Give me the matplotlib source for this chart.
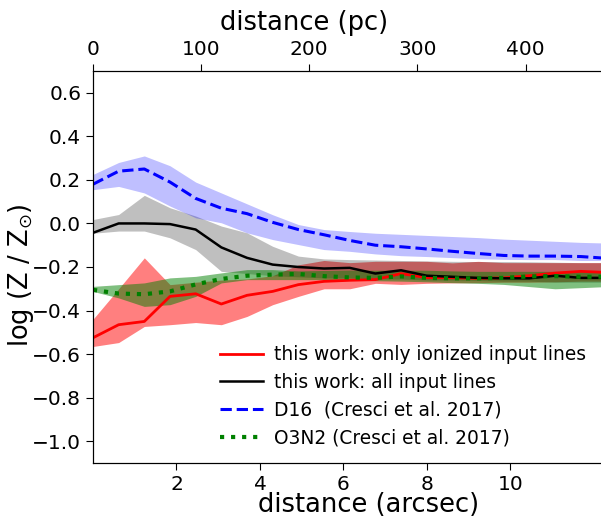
import numpy as np
import matplotlib
matplotlib.use('Agg')
import matplotlib.pyplot as plt

# radial distance grid (arcsec)
dist = [0.0, 0.615, 1.23, 1.845, 2.46, 3.075, 3.69, 4.305, 4.92, 5.535, 6.15,
        6.765, 7.38, 7.995, 8.61, 9.225, 9.84, 10.455, 11.07, 11.685, 12.3]

# this work: only ionized input lines
red_med = [-0.525, -0.465, -0.45, -0.335, -0.323, -0.37, -0.33, -0.312, -0.281, -0.266, -0.261,
           -0.258, -0.23, -0.249, -0.249, -0.252, -0.25, -0.24, -0.228, -0.22, -0.225]
red_hi = [-0.44, -0.30, -0.158, -0.281, -0.27, -0.26, -0.255, -0.24, -0.19, -0.17, -0.18,
          -0.174, -0.174, -0.174, -0.181, -0.174, -0.18, -0.18, -0.18, -0.18, -0.18]
red_lo = [-0.565, -0.547, -0.473, -0.465, -0.455, -0.465, -0.427, -0.373, -0.335, -0.3, -0.3,
          -0.275, -0.28, -0.275, -0.273, -0.272, -0.27, -0.27, -0.268, -0.265, -0.265]

# this work: all input lines
blk_med = [-0.043, 0.0, 0.0, -0.003, -0.028, -0.11, -0.158, -0.189, -0.2, -0.207, -0.204,
           -0.23, -0.215, -0.24, -0.245, -0.25, -0.252, -0.252, -0.24, -0.25, -0.25]
blk_hi = [0.018, 0.041, 0.129, 0.072, 0.034, -0.012, -0.043, -0.105, -0.15, -0.163, -0.166,
          -0.168, -0.17, -0.172, -0.174, -0.175, -0.175, -0.176, -0.178, -0.18, -0.18]
blk_lo = [-0.045, -0.035, -0.035, -0.066, -0.12, -0.22, -0.23, -0.24, -0.245, -0.25, -0.25,
          -0.255, -0.255, -0.26, -0.26, -0.262, -0.265, -0.265, -0.27, -0.27, -0.27]

# D16 (Cresci et al. 2017)
d16_med = [0.18, 0.24, 0.25, 0.19, 0.115, 0.07, 0.045, 0.005, -0.028, -0.052, -0.078,
           -0.10, -0.107, -0.117, -0.128, -0.138, -0.147, -0.15, -0.15, -0.152, -0.16]
d16_hi = [0.225, 0.28, 0.31, 0.265, 0.19, 0.14, 0.09, 0.04, -0.005, -0.028, -0.037,
          -0.045, -0.05, -0.055, -0.06, -0.065, -0.072, -0.077, -0.082, -0.087, -0.09]
d16_lo = [0.155, 0.17, 0.14, 0.08, 0.026, 0.003, -0.043, -0.074, -0.097, -0.12, -0.128,
          -0.14, -0.148, -0.152, -0.157, -0.162, -0.165, -0.166, -0.166, -0.17, -0.17]

# O3N2 (Cresci et al. 2017)
o3n2_med = [-0.305, -0.322, -0.325, -0.312, -0.28, -0.255, -0.24, -0.235, -0.232, -0.242, -0.248,
            -0.25, -0.243, -0.25, -0.252, -0.252, -0.25, -0.243, -0.242, -0.245, -0.245]
o3n2_hi = [-0.289, -0.281, -0.273, -0.25, -0.243, -0.227, -0.212, -0.212, -0.218, -0.216, -0.214,
           -0.215, -0.215, -0.215, -0.218, -0.22, -0.22, -0.22, -0.22, -0.22, -0.22]
o3n2_lo = [-0.312, -0.342, -0.381, -0.373, -0.335, -0.273, -0.258, -0.258, -0.258, -0.258, -0.26,
           -0.263, -0.265, -0.268, -0.272, -0.275, -0.28, -0.29, -0.3, -0.295, -0.29]

pc_per_arcsec = 38.6
x_max = 12.17

fig = plt.figure(figsize=(6.01, 5.19), dpi=100)
ax = fig.add_axes([0.1547, 0.1079, 0.8453, 0.7553])

# bands
ax.fill_between(dist, red_lo, red_hi, color='red', alpha=0.5, lw=0, zorder=1)
ax.fill_between(dist, blk_lo, blk_hi, color='black', alpha=0.25, lw=0, zorder=1)
ax.fill_between(dist, d16_lo, d16_hi, color='blue', alpha=0.25, lw=0, zorder=1)
ax.fill_between(dist, o3n2_lo, o3n2_hi, color='green', alpha=0.5, lw=0, zorder=1)

# lines
ax.plot(dist, red_med, color='red', lw=2.0, label='this work: only ionized input lines', zorder=3)
ax.plot(dist, blk_med, color='black', lw=1.8, label='this work: all input lines', zorder=3)
ax.plot(dist, d16_med, color='blue', lw=2.2, ls='--', label='D16  (Cresci et al. 2017)', zorder=3)
ax.plot(dist, o3n2_med, color='green', lw=3.0, ls=':', label='O3N2 (Cresci et al. 2017)', zorder=3)

ax.set_xlim(0, x_max)
ax.set_ylim(-1.1, 0.7)
ax.set_xticks([2, 4, 6, 8, 10])
ax.set_yticks([-1.0, -0.8, -0.6, -0.4, -0.2, 0.0, 0.2, 0.4, 0.6])
ax.tick_params(labelsize=14.5, length=5)
ax.set_xlabel('distance (arcsec)', fontsize=18.5)
ax.xaxis.set_label_coords(0.543, -0.075)
ax.set_ylabel(r'log (Z / Z$_{\odot}$)', fontsize=18.5)
ax.yaxis.set_label_coords(-0.112, 0.48)
ax.spines['right'].set_visible(False)

ax2 = ax.twiny()
ax2.set_xlim(0, x_max * pc_per_arcsec)
ax2.set_xticks([0, 100, 200, 300, 400])
ax2.tick_params(labelsize=14.5, length=5)
ax2.set_xlabel('distance (pc)', fontsize=18.5)
ax2.xaxis.set_label_coords(0.415, 1.105)
ax2.spines['right'].set_visible(False)

ax.legend(loc='lower right', bbox_to_anchor=(1.004, -0.003), frameon=False, fontsize=13.4,
          handlelength=2.3, labelspacing=0.47, handletextpad=0.6)

fig.savefig('out.png', dpi=100)
